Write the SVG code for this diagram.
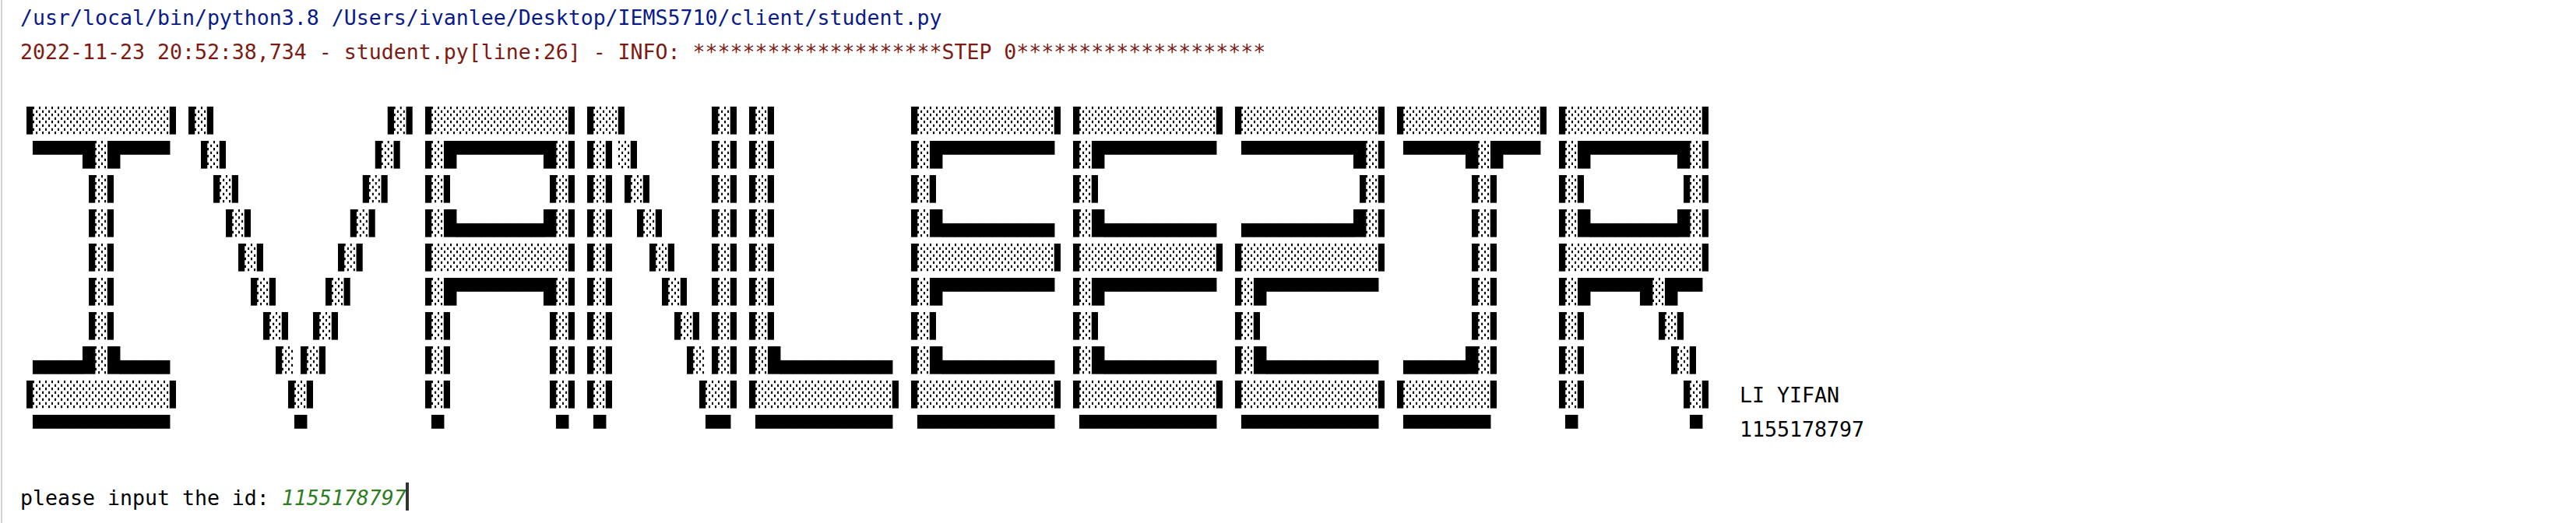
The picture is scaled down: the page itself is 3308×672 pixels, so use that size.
<svg xmlns="http://www.w3.org/2000/svg" width="3308" height="672" viewBox="0 0 3308 672">
<style>
.t{font-family:"DejaVu Sans Mono","Liberation Mono",monospace;font-size:26.57px;fill:#000}
.sys{fill:#0a1a8a}
.err{fill:#7d1a12}
.inp{fill:#2f7d22;font-style:italic}
.a{font-family:"DejaVu Sans Mono",monospace;font-size:30.07px;fill:#000;white-space:pre}
</style>
<defs>
<filter id="gray" x="0" y="0" width="1" height="1" color-interpolation-filters="sRGB">
<feColorMatrix type="saturate" values="0"/>
</filter>
</defs>
<rect x="0" y="0" width="3308" height="672" fill="#ffffff"/>
<rect x="1" y="0" width="2" height="672" fill="#d2d2d2"/>
<g id="console-lines">
<text class="t sys" x="26" y="32">/usr/local/bin/python3.8 /Users/ivanlee/Desktop/IEMS5710/client/student.py</text>
<text class="t err" x="26" y="76.1">2022-11-23 20:52:38,734 - student.py[line:26] - INFO: ********************STEP 0********************</text>
<text class="t" x="2234" y="516.7">LI YIFAN</text>
<text class="t" x="2234" y="560.7">1155178797</text>
<text class="t" x="26" y="648.8" xml:space="preserve">please input the id: <tspan class="inp">1155178797</tspan></text>
<rect id="cursor" x="521" y="620" width="4" height="36" fill="#333333"/>
</g>
<g id="banner" filter="url(#gray)">
<rect x="20" y="130" width="2190" height="445" fill="#ffffff"/>
<g id="letter-I" transform="translate(26,0) scale(0.8838,1)">
<text class="a" xml:space="preserve" x="0" y="164.8">▐░░░░░░░░░░░▌</text>
<text class="a" xml:space="preserve" x="0" y="208.8"> ▀▀▀▀█░█▀▀▀▀</text>
<text class="a" xml:space="preserve" x="0" y="252.9">     ▐░▌</text>
<text class="a" xml:space="preserve" x="0" y="296.9">     ▐░▌</text>
<text class="a" xml:space="preserve" x="0" y="341.0">     ▐░▌</text>
<text class="a" xml:space="preserve" x="0" y="385.1">     ▐░▌</text>
<text class="a" xml:space="preserve" x="0" y="429.1">     ▐░▌</text>
<text class="a" xml:space="preserve" x="0" y="473.2"> ▄▄▄▄█░█▄▄▄▄</text>
<text class="a" xml:space="preserve" x="0" y="517.2">▐░░░░░░░░░░░▌</text>
<text class="a" xml:space="preserve" x="0" y="561.3"> ▀▀▀▀▀▀▀▀▀▀▀</text>
</g>
<g id="letter-V" transform="translate(234,0) scale(0.8838,1)">
<text class="a" xml:space="preserve" x="0" y="164.8">▐░▌             ▐░▌</text>
<text class="a" xml:space="preserve" x="0" y="208.8"> ▐░▌           ▐░▌</text>
<text class="a" xml:space="preserve" x="0" y="252.9">  ▐░▌         ▐░▌</text>
<text class="a" xml:space="preserve" x="0" y="296.9">   ▐░▌       ▐░▌</text>
<text class="a" xml:space="preserve" x="0" y="341.0">    ▐░▌     ▐░▌</text>
<text class="a" xml:space="preserve" x="0" y="385.1">     ▐░▌   ▐░▌</text>
<text class="a" xml:space="preserve" x="0" y="429.1">      ▐░▌ ▐░▌</text>
<text class="a" xml:space="preserve" x="0" y="473.2">       ▐░▐░▌</text>
<text class="a" xml:space="preserve" x="0" y="517.2">        ▐░▌</text>
<text class="a" xml:space="preserve" x="0" y="561.3">         ▀</text>
</g>
<g id="letter-A" transform="translate(538,0) scale(0.8838,1)">
<text class="a" xml:space="preserve" x="0" y="164.8">▐░░░░░░░░░░░▌</text>
<text class="a" xml:space="preserve" x="0" y="208.8">▐░█▀▀▀▀▀▀▀█░▌</text>
<text class="a" xml:space="preserve" x="0" y="252.9">▐░▌       ▐░▌</text>
<text class="a" xml:space="preserve" x="0" y="296.9">▐░█▄▄▄▄▄▄▄█░▌</text>
<text class="a" xml:space="preserve" x="0" y="341.0">▐░░░░░░░░░░░▌</text>
<text class="a" xml:space="preserve" x="0" y="385.1">▐░█▀▀▀▀▀▀▀█░▌</text>
<text class="a" xml:space="preserve" x="0" y="429.1">▐░▌       ▐░▌</text>
<text class="a" xml:space="preserve" x="0" y="473.2">▐░▌       ▐░▌</text>
<text class="a" xml:space="preserve" x="0" y="517.2">▐░▌       ▐░▌</text>
<text class="a" xml:space="preserve" x="0" y="561.3"> ▀         ▀</text>
</g>
<g id="letter-N" transform="translate(746,0) scale(0.8838,1)">
<text class="a" xml:space="preserve" x="0" y="164.8">▐░░▌      ▐░▌</text>
<text class="a" xml:space="preserve" x="0" y="208.8">▐░▌░▌     ▐░▌</text>
<text class="a" xml:space="preserve" x="0" y="252.9">▐░▌▐░▌    ▐░▌</text>
<text class="a" xml:space="preserve" x="0" y="296.9">▐░▌ ▐░▌   ▐░▌</text>
<text class="a" xml:space="preserve" x="0" y="341.0">▐░▌  ▐░▌  ▐░▌</text>
<text class="a" xml:space="preserve" x="0" y="385.1">▐░▌   ▐░▌ ▐░▌</text>
<text class="a" xml:space="preserve" x="0" y="429.1">▐░▌    ▐░▌▐░▌</text>
<text class="a" xml:space="preserve" x="0" y="473.2">▐░▌     ▐░▐░▌</text>
<text class="a" xml:space="preserve" x="0" y="517.2">▐░▌      ▐░░▌</text>
<text class="a" xml:space="preserve" x="0" y="561.3"> ▀        ▀▀</text>
</g>
<g id="letter-L" transform="translate(954,0) scale(0.8838,1)">
<text class="a" xml:space="preserve" x="0" y="164.8">▐░▌</text>
<text class="a" xml:space="preserve" x="0" y="208.8">▐░▌</text>
<text class="a" xml:space="preserve" x="0" y="252.9">▐░▌</text>
<text class="a" xml:space="preserve" x="0" y="296.9">▐░▌</text>
<text class="a" xml:space="preserve" x="0" y="341.0">▐░▌</text>
<text class="a" xml:space="preserve" x="0" y="385.1">▐░▌</text>
<text class="a" xml:space="preserve" x="0" y="429.1">▐░▌</text>
<text class="a" xml:space="preserve" x="0" y="473.2">▐░█▄▄▄▄▄▄▄▄▄</text>
<text class="a" xml:space="preserve" x="0" y="517.2">▐░░░░░░░░░░░▌</text>
<text class="a" xml:space="preserve" x="0" y="561.3"> ▀▀▀▀▀▀▀▀▀▀▀</text>
</g>
<g id="letter-E1" transform="translate(1162,0) scale(0.8838,1)">
<text class="a" xml:space="preserve" x="0" y="164.8">▐░░░░░░░░░░░▌</text>
<text class="a" xml:space="preserve" x="0" y="208.8">▐░█▀▀▀▀▀▀▀▀▀</text>
<text class="a" xml:space="preserve" x="0" y="252.9">▐░▌</text>
<text class="a" xml:space="preserve" x="0" y="296.9">▐░█▄▄▄▄▄▄▄▄▄</text>
<text class="a" xml:space="preserve" x="0" y="341.0">▐░░░░░░░░░░░▌</text>
<text class="a" xml:space="preserve" x="0" y="385.1">▐░█▀▀▀▀▀▀▀▀▀</text>
<text class="a" xml:space="preserve" x="0" y="429.1">▐░▌</text>
<text class="a" xml:space="preserve" x="0" y="473.2">▐░█▄▄▄▄▄▄▄▄▄</text>
<text class="a" xml:space="preserve" x="0" y="517.2">▐░░░░░░░░░░░▌</text>
<text class="a" xml:space="preserve" x="0" y="561.3"> ▀▀▀▀▀▀▀▀▀▀▀</text>
</g>
<g id="letter-E2" transform="translate(1370,0) scale(0.8838,1)">
<text class="a" xml:space="preserve" x="0" y="164.8">▐░░░░░░░░░░░▌</text>
<text class="a" xml:space="preserve" x="0" y="208.8">▐░█▀▀▀▀▀▀▀▀▀</text>
<text class="a" xml:space="preserve" x="0" y="252.9">▐░▌</text>
<text class="a" xml:space="preserve" x="0" y="296.9">▐░█▄▄▄▄▄▄▄▄▄</text>
<text class="a" xml:space="preserve" x="0" y="341.0">▐░░░░░░░░░░░▌</text>
<text class="a" xml:space="preserve" x="0" y="385.1">▐░█▀▀▀▀▀▀▀▀▀</text>
<text class="a" xml:space="preserve" x="0" y="429.1">▐░▌</text>
<text class="a" xml:space="preserve" x="0" y="473.2">▐░█▄▄▄▄▄▄▄▄▄</text>
<text class="a" xml:space="preserve" x="0" y="517.2">▐░░░░░░░░░░░▌</text>
<text class="a" xml:space="preserve" x="0" y="561.3"> ▀▀▀▀▀▀▀▀▀▀▀</text>
</g>
<g id="letter-2" transform="translate(1578,0) scale(0.8838,1)">
<text class="a" xml:space="preserve" x="0" y="164.8">▐░░░░░░░░░░░▌</text>
<text class="a" xml:space="preserve" x="0" y="208.8"> ▀▀▀▀▀▀▀▀▀█░▌</text>
<text class="a" xml:space="preserve" x="0" y="252.9">          ▐░▌</text>
<text class="a" xml:space="preserve" x="0" y="296.9"> ▄▄▄▄▄▄▄▄▄█░▌</text>
<text class="a" xml:space="preserve" x="0" y="341.0">▐░░░░░░░░░░░▌</text>
<text class="a" xml:space="preserve" x="0" y="385.1">▐░█▀▀▀▀▀▀▀▀▀</text>
<text class="a" xml:space="preserve" x="0" y="429.1">▐░▌</text>
<text class="a" xml:space="preserve" x="0" y="473.2">▐░█▄▄▄▄▄▄▄▄▄</text>
<text class="a" xml:space="preserve" x="0" y="517.2">▐░░░░░░░░░░░▌</text>
<text class="a" xml:space="preserve" x="0" y="561.3"> ▀▀▀▀▀▀▀▀▀▀▀</text>
</g>
<g id="letter-J" transform="translate(1786,0) scale(0.8838,1)">
<text class="a" xml:space="preserve" x="0" y="164.8">▐░░░░░░░░░░░▌</text>
<text class="a" xml:space="preserve" x="0" y="208.8"> ▀▀▀▀▀█░█▀▀▀</text>
<text class="a" xml:space="preserve" x="0" y="252.9">      ▐░▌</text>
<text class="a" xml:space="preserve" x="0" y="296.9">      ▐░▌</text>
<text class="a" xml:space="preserve" x="0" y="341.0">      ▐░▌</text>
<text class="a" xml:space="preserve" x="0" y="385.1">      ▐░▌</text>
<text class="a" xml:space="preserve" x="0" y="429.1">      ▐░▌</text>
<text class="a" xml:space="preserve" x="0" y="473.2"> ▄▄▄▄▄█░▌</text>
<text class="a" xml:space="preserve" x="0" y="517.2">▐░░░░░░░▌</text>
<text class="a" xml:space="preserve" x="0" y="561.3"> ▀▀▀▀▀▀▀</text>
</g>
<g id="letter-R" transform="translate(1994,0) scale(0.8838,1)">
<text class="a" xml:space="preserve" x="0" y="164.8">▐░░░░░░░░░░░▌</text>
<text class="a" xml:space="preserve" x="0" y="208.8">▐░█▀▀▀▀▀▀▀█░▌</text>
<text class="a" xml:space="preserve" x="0" y="252.9">▐░▌       ▐░▌</text>
<text class="a" xml:space="preserve" x="0" y="296.9">▐░█▄▄▄▄▄▄▄█░▌</text>
<text class="a" xml:space="preserve" x="0" y="341.0">▐░░░░░░░░░░░▌</text>
<text class="a" xml:space="preserve" x="0" y="385.1">▐░█▀▀▀▀█░█▀▀</text>
<text class="a" xml:space="preserve" x="0" y="429.1">▐░▌     ▐░▌</text>
<text class="a" xml:space="preserve" x="0" y="473.2">▐░▌      ▐░▌</text>
<text class="a" xml:space="preserve" x="0" y="517.2">▐░▌       ▐░▌</text>
<text class="a" xml:space="preserve" x="0" y="561.3"> ▀         ▀</text>
</g>
</g>
<g id="connectors"/>
</svg>
